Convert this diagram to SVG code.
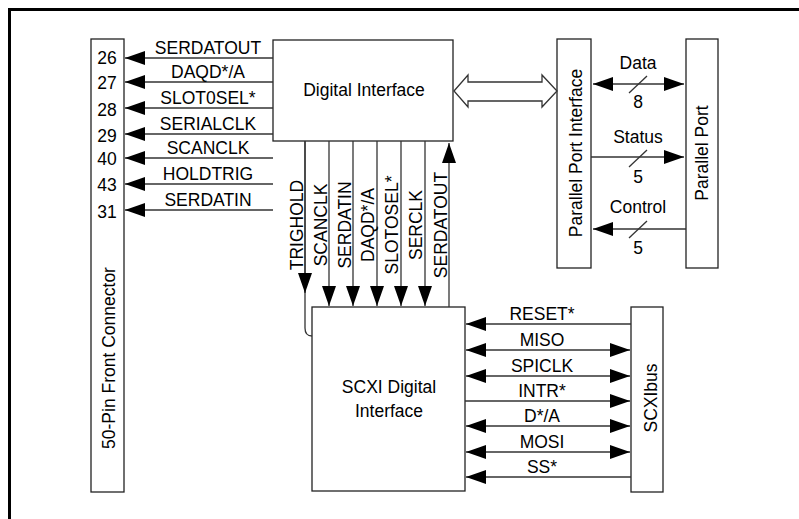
<svg xmlns="http://www.w3.org/2000/svg" width="799" height="519" viewBox="0 0 799 519">
<style>
  .box { fill: #fff; stroke: #222; stroke-width: 1.3; }
  .ln { fill: none; stroke: #333; stroke-width: 1.3; }
  .t { font-family: "Liberation Sans", Arial, sans-serif; font-size: 17.5px; fill: #000; }
  .m { text-anchor: middle; }
</style>
<defs>
  <marker id="ah" markerUnits="userSpaceOnUse" markerWidth="20" markerHeight="14" refX="20" refY="7" orient="auto-start-reverse" viewBox="0 0 20 14">
    <path d="M0,0 L20,7 L0,14 Z" fill="#000"/>
  </marker>
</defs>
<rect width="799" height="519" fill="#fff"/>
<path d="M9.5,519 V9.5 H799" fill="none" stroke="#000" stroke-width="3"/>

<g id="front-connector">
  <rect class="box" x="91" y="39" width="33" height="453"/>
  <text class="t m" x="107" y="64">26</text>
  <text class="t m" x="107" y="89">27</text>
  <text class="t m" x="107" y="116">28</text>
  <text class="t m" x="107" y="142">29</text>
  <text class="t m" x="107" y="165">40</text>
  <text class="t m" x="107" y="191">43</text>
  <text class="t m" x="107" y="218">31</text>
  <text class="t m" transform="translate(115,358) rotate(-90)">50-Pin Front Connector</text>
</g>

<g id="digital-interface">
  <rect class="box" x="273" y="40" width="180" height="101"/>
  <text class="t m" x="364" y="96">Digital Interface</text>
</g>

<g id="parallel-port-interface">
  <rect class="box" x="557" y="39" width="34" height="229"/>
  <text class="t m" transform="translate(582,153) rotate(-90)">Parallel Port Interface</text>
</g>

<g id="parallel-port">
  <rect class="box" x="686" y="39" width="32" height="229"/>
  <text class="t m" transform="translate(708,153) rotate(-90)">Parallel Port</text>
</g>

<g id="scxi-digital-interface">
  <rect class="box" x="312" y="307" width="153" height="184"/>
  <text class="t m" x="389" y="393">SCXI Digital</text>
  <text class="t m" x="389" y="417">Interface</text>
</g>

<g id="scxibus">
  <rect class="box" x="631" y="307" width="32" height="185"/>
  <text class="t m" transform="translate(657,398) rotate(-90)">SCXIbus</text>
</g>

<g id="connectors">
  <!-- Digital Interface to front connector -->
  <line class="ln" x1="273" y1="58" x2="125" y2="58" marker-end="url(#ah)"/>
  <line class="ln" x1="273" y1="82" x2="125" y2="82" marker-end="url(#ah)"/>
  <line class="ln" x1="273" y1="108" x2="125" y2="108" marker-end="url(#ah)"/>
  <line class="ln" x1="273" y1="134" x2="125" y2="134" marker-end="url(#ah)"/>
  <line class="ln" x1="273" y1="158" x2="125" y2="158" marker-end="url(#ah)"/>
  <line class="ln" x1="273" y1="184" x2="125" y2="184" marker-end="url(#ah)"/>
  <line class="ln" x1="273" y1="210" x2="125" y2="210" marker-end="url(#ah)"/>
  <text class="t m" x="208" y="54">SERDATOUT</text>
  <text class="t m" x="208" y="78">DAQD*/A</text>
  <text class="t m" x="208" y="104">SLOT0SEL*</text>
  <text class="t m" x="208" y="130">SERIALCLK</text>
  <text class="t m" x="208" y="154">SCANCLK</text>
  <text class="t m" x="208" y="180">HOLDTRIG</text>
  <text class="t m" x="208" y="206">SERDATIN</text>

  <!-- Digital Interface to SCXI Digital Interface -->
  <path class="ln" d="M305,141 V328 Q305,336 312,336" />
  <line class="ln" x1="305" y1="141" x2="305" y2="293" marker-end="url(#ah)"/>
  <line class="ln" x1="329" y1="141" x2="329" y2="306" marker-end="url(#ah)"/>
  <line class="ln" x1="353" y1="141" x2="353" y2="306" marker-end="url(#ah)"/>
  <line class="ln" x1="377" y1="141" x2="377" y2="306" marker-end="url(#ah)"/>
  <line class="ln" x1="401" y1="141" x2="401" y2="306" marker-end="url(#ah)"/>
  <line class="ln" x1="425" y1="141" x2="425" y2="306" marker-end="url(#ah)"/>
  <line class="ln" x1="449" y1="307" x2="449" y2="143" marker-end="url(#ah)"/>
  <text class="t m" transform="translate(303,225) rotate(-90)">TRIGHOLD</text>
  <text class="t m" transform="translate(327,225) rotate(-90)">SCANCLK</text>
  <text class="t m" transform="translate(351,225) rotate(-90)">SERDATIN</text>
  <text class="t m" transform="translate(374,225) rotate(-90)">DAQD*/A</text>
  <text class="t m" transform="translate(398,225) rotate(-90)">SLOTOSEL*</text>
  <text class="t m" transform="translate(422,225) rotate(-90)">SERCLK</text>
  <text class="t m" transform="translate(447,225) rotate(-90)">SERDATOUT</text>

  <!-- hollow bus arrow -->
  <polygon points="454,91 468,75 468,82 542,82 542,75 557,91 542,107 542,101 468,101 468,107" fill="#fff" stroke="#333" stroke-width="1.3"/>

  <!-- Parallel port signals -->
  <line class="ln" x1="593" y1="84" x2="684" y2="84" marker-start="url(#ah)" marker-end="url(#ah)"/>
  <line class="ln" x1="629" y1="93" x2="647" y2="76"/>
  <text class="t m" x="638" y="69">Data</text>
  <text class="t m" x="638" y="108">8</text>
  <line class="ln" x1="591" y1="157" x2="684" y2="157" marker-end="url(#ah)"/>
  <line class="ln" x1="629" y1="167" x2="647" y2="150"/>
  <text class="t m" x="638" y="143">Status</text>
  <text class="t m" x="638" y="183">5</text>
  <line class="ln" x1="686" y1="229" x2="593" y2="229" marker-end="url(#ah)"/>
  <line class="ln" x1="629" y1="238" x2="647" y2="221"/>
  <text class="t m" x="638" y="213">Control</text>
  <text class="t m" x="638" y="254">5</text>

  <!-- SCXIbus signals -->
  <line class="ln" x1="631" y1="324" x2="466" y2="324" marker-end="url(#ah)"/>
  <line class="ln" x1="466" y1="350" x2="630" y2="350" marker-start="url(#ah)" marker-end="url(#ah)"/>
  <line class="ln" x1="466" y1="376" x2="630" y2="376" marker-start="url(#ah)" marker-end="url(#ah)"/>
  <line class="ln" x1="465" y1="401" x2="630" y2="401" marker-end="url(#ah)"/>
  <line class="ln" x1="466" y1="426" x2="630" y2="426" marker-start="url(#ah)" marker-end="url(#ah)"/>
  <line class="ln" x1="466" y1="452" x2="630" y2="452" marker-start="url(#ah)" marker-end="url(#ah)"/>
  <line class="ln" x1="631" y1="477" x2="466" y2="477" marker-end="url(#ah)"/>
  <text class="t m" x="542" y="320">RESET*</text>
  <text class="t m" x="542" y="346">MISO</text>
  <text class="t m" x="542" y="372">SPICLK</text>
  <text class="t m" x="542" y="397">INTR*</text>
  <text class="t m" x="542" y="422">D*/A</text>
  <text class="t m" x="542" y="448">MOSI</text>
  <text class="t m" x="542" y="473">SS*</text>
</g>
</svg>
